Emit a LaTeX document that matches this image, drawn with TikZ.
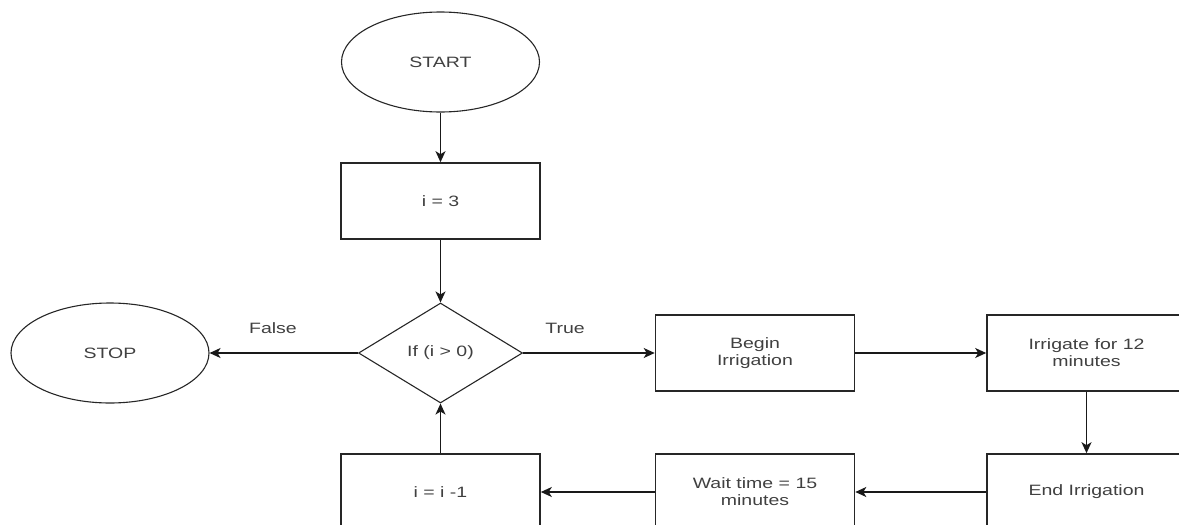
\documentclass[tikz,border=0pt]{standalone}
\usepackage{fontspec}
\newfontfamily\diagfont{Liberation Sans}[FakeStretch=1.3]
\usetikzlibrary{shapes.geometric,arrows.meta}

\begin{document}
\begin{tikzpicture}[x=1pt,y=-1pt,
  every node/.style={font=\diagfont\fontsize{15}{17}\selectfont, text=black!75, align=center},
  terminal/.style={ellipse, draw=black!85, line width=1.1pt, minimum width=198pt, minimum height=100pt, inner sep=0pt},
  process/.style={rectangle, draw=black!85, line width=1.6pt, minimum width=199pt, minimum height=76pt, inner sep=0pt},
  decision/.style={diamond, draw=black!85, line width=1.1pt, minimum width=164pt, minimum height=100pt, inner sep=0pt},
  flow/.style={draw=black!90, line width=1.5pt, -{Stealth[length=11pt,width=10pt,inset=3pt]}},
  branch/.style={text=black!75}
]
\useasboundingbox (0,0) rectangle (1179,525);
\clip (0,0) rectangle (1179,525);

% nodes
\node[terminal] (start) at (440.5,62) {START};
\node[process]  (init)  at (440.5,201) {i = 3};
\node[decision] (cond)  at (440.5,353) {If (i {>} 0)};
\node[terminal] (stop)  at (110,353) {STOP};
\node[process]  (begin) at (755,353) {Begin\\Irrigation};
\node[process]  (irr)   at (1086.5,353) {Irrigate for 12\\minutes};
\node[process]  (endi)  at (1086.5,492) {End Irrigation};
\node[process]  (wait)  at (755,492) {Wait time = 15\\minutes};
\node[process]  (dec)   at (440.5,492) {i = i -1};

% connectors
\draw[flow] (start) -- (init);
\draw[flow] (init) -- (cond);
\draw[flow] (cond.west) -- (stop.east);
\draw[flow] (cond.east) -- (begin.west);
\draw[flow] (begin) -- (irr);
\draw[flow] (irr) -- (endi);
\draw[flow] (endi) -- (wait);
\draw[flow] (wait) -- (dec);
\draw[flow] (dec) -- (cond.south);

% branch labels
\node[branch] (lfalse) at (273,328) {False};
\node[branch] (ltrue)  at (565,328) {True};
\end{tikzpicture}
\end{document}
